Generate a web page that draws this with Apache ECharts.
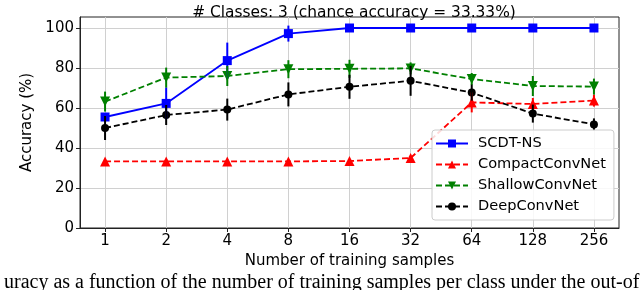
<!DOCTYPE html>
<html>
<head>
<meta charset="utf-8">
<script src="https://cdn.jsdelivr.net/npm/echarts@6/dist/echarts.min.js"></script>
<style>html,body{margin:0;padding:0;background:#fff}#c{width:640px;height:290px}</style>
</head>
<body>
<div id="c"></div>
<script>
const samples = [1, 2, 4, 8, 16, 32, 64, 128, 256];
const yTicks = [0, 20, 40, 60, 80, 100];
const seriesNames = ['SCDT-NS', 'CompactConvNet', 'ShallowConvNet', 'DeepConvNet'];
const scdtMean = [55.5, 62.3, 83.7, 97.2, 100, 100, 100, 100, 100];
const scdtErr = [2, 8, 9, 4, 0.5, 0.5, 0.5, 0.5, 0.5];
const compactMean = [33.3, 33.3, 33.3, 33.3, 33.5, 35.0, 62.8, 62.0, 63.7];
const compactErr = [1, 1, 1, 1, 1, 1, 5, 3, 3];
const shallowMean = [63.2, 75.2, 76.0, 79.4, 79.6, 79.8, 74.5, 71.0, 70.7];
const shallowErr = [5, 5, 5, 4.5, 4.5, 3, 3, 5, 4];
const deepMean = [50.0, 56.5, 59.2, 66.8, 70.6, 73.6, 67.7, 57.2, 51.8];
const deepErr = [6, 5, 5.5, 6, 6, 7.5, 4, 4.5, 3];
const title = '# Classes: 3 (chance accuracy = 33.33%)';
const xName = 'Number of training samples';
const yName = 'Accuracy (%)';
const caption = 'uracy as a function of the number of training samples per class under the out-of';

const colors = ['#0000ff', '#ff0000', '#008000', '#000000'];
const means = [scdtMean, compactMean, shallowMean, deepMean];
const errs = [scdtErr, compactErr, shallowErr, deepErr];
const symbols = ['rect', 'triangle', 'triangle', 'circle'];
const symbolSizes = [9, 10, 10, 8];
const rotates = [0, 0, 180, 0];
const lineTypes = ['solid', [6, 3], [6, 3], [6, 3]];
const xIdx = samples.map(s => Math.log2(s));
const FONT = 'DejaVu Sans';

const chart = echarts.init(document.getElementById('c'), null, {renderer: 'canvas'});
const series = [];
means.forEach((m, k) => {
  series.push({
    type: 'custom',
    name: seriesNames[k] + ' err',
    data: m.map((v, i) => [xIdx[i], v - errs[k][i], v + errs[k][i]]),
    renderItem: function (params, api) {
      const x = api.value(0);
      const p1 = api.coord([x, api.value(1)]);
      const p2 = api.coord([x, api.value(2)]);
      return {type: 'line', shape: {x1: p1[0], y1: p1[1], x2: p2[0], y2: p2[1]}, style: {stroke: colors[k], lineWidth: 2}};
    },
    z: 3, silent: true, legendHoverLink: false
  });
  series.push({
    type: 'line',
    name: seriesNames[k],
    data: m.map((v, i) => [xIdx[i], v]),
    symbol: symbols[k], symbolSize: symbolSizes[k], symbolRotate: rotates[k],
    lineStyle: {color: colors[k], width: 1.8, type: lineTypes[k]},
    itemStyle: {color: colors[k]},
    z: 2, animation: false
  });
});

chart.setOption({
  animation: false,
  title: {text: title, left: 349, top: 0, textAlign: 'center',
    textStyle: {fontFamily: FONT, fontSize: 15.4, fontWeight: 'normal', color: '#000'}},
  grid: {left: 80, right: 21, top: 17, bottom: 62, show: true, borderColor: '#222', borderWidth: 1},
  legend: {
    data: seriesNames, orient: 'vertical', left: 432, top: 130,
    width: 180, itemWidth: 32, itemHeight: 10, itemGap: 6,
    padding: [6, 8, 6, 3],
    backgroundColor: 'rgba(255,255,255,0.85)', borderColor: '#ccc', borderWidth: 1, borderRadius: 3,
    textStyle: {fontFamily: FONT, fontSize: 14.6, color: '#000', padding: [0, 0, 0, 5]}
  },
  xAxis: {
    type: 'value', min: -0.41, max: 8.41,
    name: xName, nameLocation: 'middle', nameGap: 23,
    nameTextStyle: {fontFamily: FONT, fontSize: 15, color: '#000'},
    axisLine: {onZero: false, lineStyle: {color: '#222'}},
    axisTick: {show: true, length: 4, customValues: xIdx, lineStyle: {color: '#222'}},
    axisLabel: {customValues: xIdx, formatter: v => String(samples[Math.round(v)]),
      fontFamily: FONT, fontSize: 15, color: '#000', margin: 6},
    splitLine: {show: true, lineStyle: {color: '#d0d0d0', width: 1}}
  },
  yAxis: {
    type: 'value', min: 0, max: 105.5,
    name: yName, nameLocation: 'middle', nameGap: 36, nameRotate: 90,
    nameTextStyle: {fontFamily: FONT, fontSize: 15, color: '#000'},
    axisLine: {show: true, onZero: false, lineStyle: {color: '#222'}},
    axisTick: {show: true, length: 4, customValues: yTicks, lineStyle: {color: '#222'}},
    axisLabel: {customValues: yTicks, fontFamily: FONT, fontSize: 15, color: '#000', margin: 6},
    splitLine: {show: true, lineStyle: {color: '#d0d0d0', width: 1}}
  },
  graphic: [{
    type: 'text', left: 4, top: 273,
    style: {text: caption, fontFamily: 'Liberation Serif', fontSize: 20, fill: '#000'}
  }],
  series: series
});
</script>
</body>
</html>
